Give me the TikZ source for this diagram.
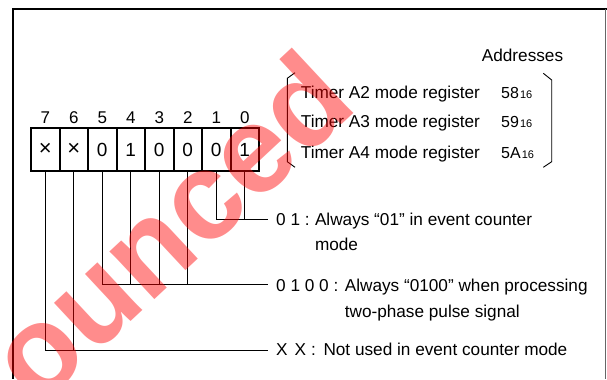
\documentclass[tikz,border=0pt]{standalone}
\usepackage{fontspec}
\setmainfont{Liberation Sans}
\begin{document}
\begin{tikzpicture}[x=1bp,y=-1bp,
  txt/.style={inner sep=0pt, anchor=base west, font=\fontsize{17.2bp}{20bp}\selectfont},
  cell/.style={draw, line width=2bp, minimum width=28.5bp, minimum height=42.4bp, inner sep=0pt, font=\fontsize{19bp}{20bp}\selectfont},
  bitno/.style={inner sep=0pt, anchor=base, font=\fontsize{17bp}{18bp}\selectfont},
  addr/.style={inner sep=0pt, anchor=base west, font=\fontsize{16bp}{17bp}\selectfont},
  lead/.style={line width=1bp},
  brace/.style={line width=0.9bp},
  wm/.style={rotate=43, anchor=base, inner sep=0pt, text=red, text opacity=0.45, font=\fontsize{124bp}{125bp}\selectfont\bfseries}
]
\useasboundingbox (0,0) rectangle (607,379);
\fill[white] (0,0) rectangle (607,379);
% frame
\draw[line width=2.6bp] (12,9) -- (607,9);
\draw[line width=2bp] (13,8) -- (13,379);
\draw[line width=0.8bp, black!60] (605,9) -- (605,379);
% bit numbers
\foreach \i/\x in {7/45.25,6/73.75,5/102.25,4/130.75,3/159.25,2/187.75,1/216.25,0/244.75}
  \node[bitno] (n\i) at (\x,123) {\i};
% cells
\node[cell] (b7) at (45.25,149.5) {\fontsize{22bp}{22bp}\selectfont ×};
\node[cell] (b6) at (73.75,149.5) {\fontsize{22bp}{22bp}\selectfont ×};
\node[cell] (b5) at (102.25,149.5) {0};
\node[cell] (b4) at (130.75,149.5) {1};
\node[cell] (b3) at (159.25,149.5) {0};
\node[cell] (b2) at (187.75,149.5) {0};
\node[cell] (b1) at (216.25,149.5) {0};
\node[cell] (b0) at (244.75,149.5) {1};
% legend ends
\coordinate (e1) at (268,219.5);
\coordinate (e2) at (268,284);
\coordinate (e3) at (268,350);
\draw[lead] (b1.south) |- (e1);
\draw[lead] (b0.south) -- (b0.south |- e1);
\draw[lead] (b5.south) |- (e2);
\draw[lead] (b4.south) -- (b4.south |- e2);
\draw[lead] (b3.south) -- (b3.south |- e2);
\draw[lead] (b2.south) -- (b2.south |- e2);
\draw[lead] (b7.south) |- (e3);
\draw[lead] (b6.south) -- (b6.south |- e3);
% legend texts
\node[txt] (p1) at (276,225.3) {0 1 :};
\node[txt] (t1) at (314.8,225.3) {Always “01” in event counter};
\node[txt] (t1b) at (314.8,250.5) {mode};
\node[txt] (p2) at (276,291) {0 1 0 0 :};
\node[txt] (t2) at (344.6,291) {Always “0100” when processing};
\node[txt] (t2b) at (344.6,317.4) {two-phase pulse signal};
\node[txt] (p3) at (276,355.4) {X\hspace{7bp}X\hspace{5bp}:};
\node[txt] (t3) at (323.3,355.4) {Not used in event counter mode};
% addresses
\node[txt, anchor=base] (ad) at (522.5,61.7) {Addresses};
\node[txt] (r2) at (300.7,98.3) {Timer A2 mode register};
\node[txt] (r3) at (300.7,127.7) {Timer A3 mode register};
\node[txt] (r4) at (300.7,158.3) {Timer A4 mode register};
\node[addr] (a2) at (501,98.3) {58\hspace{1bp}{\fontsize{11bp}{12bp}\selectfont 16}};
\node[addr] (a3) at (501,127.7) {59\hspace{1bp}{\fontsize{11bp}{12bp}\selectfont 16}};
\node[addr] (a4) at (501,158.3) {5A\hspace{1bp}{\fontsize{11bp}{12bp}\selectfont 16}};
% brackets
\draw[brace] (295,72.7) -- (287.3,78.3) -- (287.3,161.7) -- (295,167.3);
\draw[brace] (543.3,73.3) -- (551.7,80) -- (551.7,161.7) -- (543.3,167.3);
% watermark
\begin{scope}
\clip (0,0) rectangle (607,379);
\node[wm] (mark) at (199,258) {ounced};
\end{scope}
\end{tikzpicture}
\end{document}
